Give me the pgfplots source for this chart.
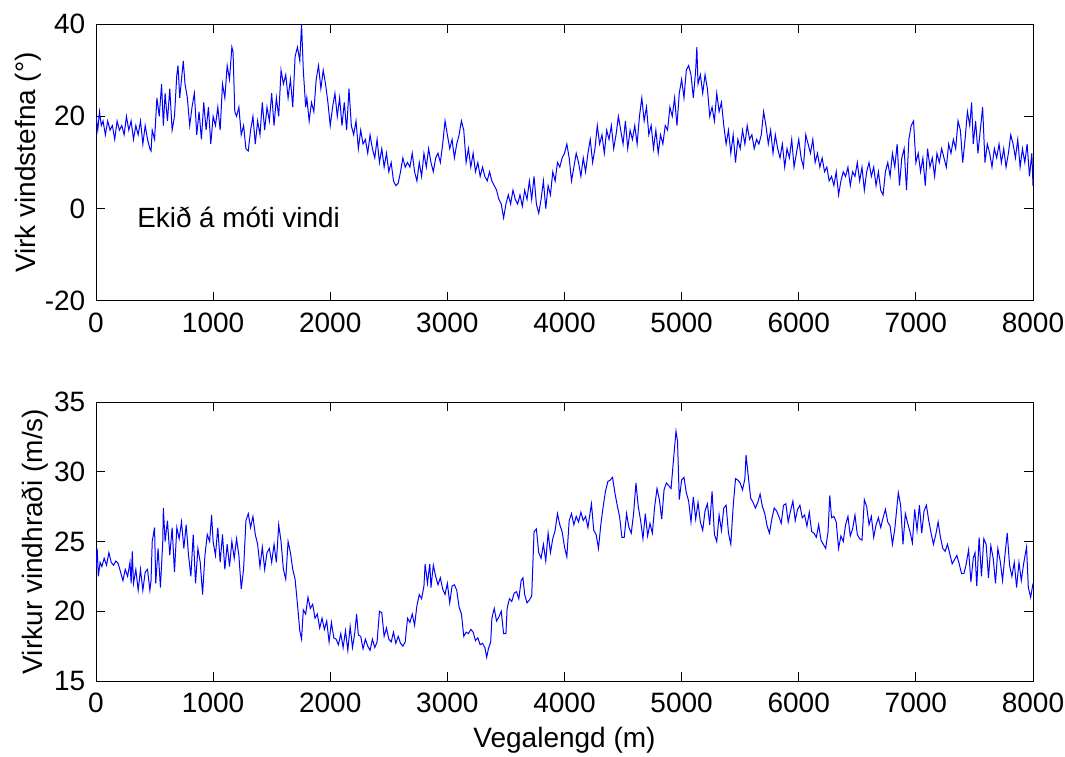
\documentclass[border=0pt]{standalone}
\usepackage{fontspec}
\setmainfont{Liberation Sans}
\usepackage{pgfplots}
\usepackage{pgfplotstable}
\pgfplotsset{compat=1.18}
\definecolor{mblue}{RGB}{0,0,255}

\pgfplotstableread{
x y
0 20
15 17
30 21
45 18
60 19
80 16
100 19
120 17
140 18
160 15
180 19
200 17
220 18
240 16
260 20
280 17
300 19
320 15
340 18
360 16
380 19
400 14
420 18
440 15
460 13
470 12.5
480 17
500 15
520 24
540 20
560 27
575 18
590 25
610 19
630 26
650 17
670 20
690 29
700 31
715 24
730 28
745 32
760 27
780 24
800 18
820 22
840 25
860 16
880 21
900 15
920 23
940 17
960 22
980 14
1000 20
1020 18
1040 22
1060 17
1080 27
1100 24
1120 31
1140 28
1160 35
1170 34
1185 21
1200 20
1220 22
1240 16
1260 18
1280 13
1300 12.5
1320 17
1340 20
1360 14
1380 19
1400 16
1420 23
1440 17
1460 22
1480 19
1500 25
1520 18
1540 24
1560 20
1580 30
1600 27
1620 29
1640 24
1660 28
1680 22
1700 33
1720 35
1740 32
1755 40
1770 30
1790 22
1800 24
1820 19
1840 23
1860 21
1880 28
1900 31
1920 26
1940 30
1960 27
1980 23
2000 18
2020 22
2040 25
2060 20
2080 24
2100 18
2120 23
2140 17
2160 26
2180 18
2200 16
2220 19
2240 13
2260 17
2280 14
2300 15
2320 12
2340 16
2360 13
2380 11
2400 15
2420 10
2440 13
2460 9
2480 12
2500 8
2520 10
2540 6
2560 5
2580 5.5
2600 8
2620 11
2640 9
2660 10
2680 9
2700 12
2720 8
2740 6
2760 10
2780 7
2800 12
2820 9
2840 13
2860 10
2880 8
2900 11
2920 12
2940 10
2960 14
2980 19
3000 16
3020 13
3040 15
3060 11
3080 14
3100 16
3120 19
3140 17
3160 10
3180 13
3200 9
3220 12
3240 8
3260 10
3280 7
3300 9
3320 7
3340 6
3360 8
3380 6
3400 5
3420 4
3440 2
3460 1
3480 -2
3500 1
3520 3
3540 1
3560 4
3580 2
3600 1
3620 3
3640 0.5
3660 4
3680 2
3700 6
3720 2
3740 7
3760 1
3780 -1
3800 2
3820 6
3840 0
3860 5
3880 3
3900 8
3920 6
3940 10
3960 9
3980 11
4000 12
4020 14
4040 11
4060 6
4080 9
4100 12
4120 10
4140 7
4160 11
4180 8
4200 12
4220 15
4240 10
4260 13
4280 18
4300 14
4320 16
4340 12
4360 17
4380 15
4400 18
4420 13
4440 16
4460 20
4480 17
4500 14
4520 19
4540 13
4560 17
4580 15
4600 18
4620 14
4640 20
4660 24
4680 19
4700 22
4720 16
4740 18
4760 13
4780 17
4800 12
4820 16
4840 14
4860 18
4880 17
4900 22
4920 20
4940 24
4960 18
4980 25
5000 28
5020 24
5040 30
5060 31
5080 29
5100 24
5120 30
5130 35
5140 27
5160 29
5180 25
5200 29
5220 26
5240 20
5260 22
5280 19
5300 25
5320 21
5340 23
5360 18
5380 14
5400 17
5420 12
5440 16
5460 10
5480 15
5500 13
5520 17
5540 14
5560 18
5580 15
5600 16
5620 13
5640 15
5660 14
5680 16
5700 21
5720 18
5740 14
5760 17
5780 12
5800 16
5820 13
5840 11
5860 14
5880 9
5900 13
5920 11
5940 15
5960 9
5980 12
6000 15
6020 11
6040 9
6060 16
6080 14
6100 12
6120 15
6140 10
6160 12
6180 9
6200 11
6220 8
6240 9
6260 6
6280 7
6300 5
6320 8
6340 3
6360 6
6380 8
6400 7
6420 9
6440 5
6460 8
6480 7
6500 10
6520 6
6540 9
6560 4
6580 8
6600 10
6620 7
6640 9
6660 5
6680 8
6700 4
6720 3
6740 8
6760 10
6780 7
6800 12
6820 9
6840 14
6860 5
6880 11
6900 13
6920 4
6940 15
6960 18
6980 19
7000 10
7020 12
7040 8
7060 11
7080 5
7100 13
7120 9
7140 11
7160 7
7180 12
7200 10
7220 13
7240 11
7260 9
7280 14
7300 12
7320 15
7340 13
7360 19
7380 17
7400 10
7420 15
7440 21
7460 18
7476 23
7490 14
7510 19
7530 12
7550 17
7570 22
7590 10
7610 14
7630 12
7650 9
7670 13
7690 11
7710 14
7730 10
7750 13
7770 9
7790 12
7810 16
7830 14
7850 11
7870 15
7890 9
7910 13
7930 10
7950 14
7970 7
7990 12
8000 5
}\dirtable

\pgfplotstableread{
x y
0 23
10 24.5
20 22.5
35 23.5
50 23.2
70 23.8
90 23.3
110 24.2
130 23.5
150 23.3
170 23.6
190 23.4
210 22.8
230 22.2
250 23
270 22.5
290 23.5
300 22
310 24.3
320 22
340 23
360 21.5
380 23
400 21.5
420 22.8
440 23
460 21.5
470 22.2
480 25
500 26
510 22
530 24.5
550 21.7
570 25
575 27.4
590 25
610 26.5
630 24
650 26
670 22.8
690 26
710 25.2
730 26.4
750 24.5
770 26.2
790 24
810 22.5
830 25.5
850 22
870 24.5
890 23.5
910 21.2
930 24
950 25.5
970 25
987 26.9
1000 25
1020 24
1040 26
1060 23.5
1080 25.5
1100 23
1120 24.8
1140 23.2
1160 25
1180 23.8
1200 25.2
1220 24
1240 21.6
1260 23
1280 26.5
1300 27
1320 26
1340 26.8
1360 25.5
1380 24.8
1400 23.2
1420 24.6
1440 23
1460 24.2
1480 24.5
1500 23.5
1520 24.8
1540 23.5
1560 26.2
1580 25
1600 23
1620 22.3
1640 25
1660 24.2
1680 23
1700 22.3
1720 20.5
1740 18.6
1755 18
1770 20.1
1790 19.8
1810 21
1830 20.2
1850 20.5
1870 19.5
1890 19.8
1910 18.8
1930 19.5
1950 18.7
1970 19.3
1990 17.8
2010 19.2
2030 18.1
2050 18
2070 17.6
2090 18.4
2110 17.4
2130 18.6
2150 17.2
2170 18.9
2190 17.4
2210 18.5
2225 19.8
2240 18.3
2260 18.2
2280 17.3
2300 18
2320 17.5
2340 17.2
2360 18
2380 17.4
2400 17.8
2420 20
2440 19.9
2460 18.2
2480 18.8
2500 18
2520 17.8
2540 18.5
2560 17.7
2580 18.2
2600 17.7
2620 17.5
2640 17.8
2660 19.5
2680 19.2
2700 19.8
2720 19
2740 20.4
2760 21.2
2780 20.9
2800 21.8
2810 23.4
2830 22
2850 23.4
2860 21.7
2880 23.3
2900 22.5
2920 21.9
2940 22.4
2960 21.6
2980 21.2
3000 22
3020 20.6
3040 21.8
3060 21.9
3080 21.5
3100 20.3
3120 19.8
3140 18.2
3160 18.5
3180 18.4
3200 18.7
3220 18.5
3240 17.9
3260 18.1
3280 17.6
3300 17.7
3320 17.4
3336 16.7
3350 17.3
3370 17.8
3380 19.5
3400 20.2
3420 19.3
3440 19.6
3460 20
3480 18.4
3500 18.4
3510 20.2
3530 20.9
3550 20.7
3570 21.3
3590 21.4
3610 20.9
3630 22.2
3645 22.4
3660 21.2
3680 20.6
3700 20.8
3720 21.1
3740 25.7
3760 25.9
3780 24.2
3800 23.8
3820 24.8
3840 23.6
3860 25.6
3880 24.2
3900 25.2
3920 25.8
3940 27
3960 26.2
3980 25.7
4000 24.6
4020 23.9
4040 26.5
4060 27
4080 26.2
4100 26.8
4120 26.4
4140 27.1
4160 26.5
4180 26.8
4200 26
4230 27.7
4250 25.8
4270 25.5
4290 24.5
4310 26.2
4330 27.5
4350 28.6
4370 29.3
4390 29.4
4410 29.6
4430 28.5
4450 27.6
4470 26.8
4490 25.3
4510 25.3
4530 27
4550 26
4570 25.6
4590 27
4610 29.2
4630 27.5
4650 26.5
4670 25.2
4690 27
4710 25.4
4730 26.3
4750 25.6
4770 27.5
4790 28.8
4810 28
4830 26.6
4850 28.7
4870 29.2
4890 29
4910 28.8
4930 30.8
4952 32.9
4965 32.2
4980 28
5000 29.4
5020 29.6
5040 28.5
5060 27.9
5080 26.4
5100 28.2
5120 26.6
5140 27.8
5160 26.4
5180 25.8
5200 27.2
5220 27.7
5240 26.2
5260 28.6
5280 25.5
5300 25
5320 26.9
5340 25.8
5360 27.4
5380 27.6
5400 25.6
5420 24.8
5440 27.5
5460 29.5
5480 29.4
5500 29.2
5520 28.7
5540 29.5
5550 31.2
5570 29.6
5590 28.1
5610 27.8
5630 27.4
5650 27.8
5670 28.4
5690 27.5
5710 27
5730 26.1
5750 25.6
5770 26.6
5790 27.4
5810 27.2
5830 26.8
5850 26.3
5870 27.6
5890 27.7
5910 26.4
5930 27.2
5950 27.9
5970 26.5
5990 27.3
6010 27.6
6030 26.7
6050 26.9
6070 26.1
6090 27.1
6110 25.7
6130 25.6
6150 25.3
6170 26.2
6190 25.1
6210 24.8
6230 24.5
6250 25.7
6265 28.3
6280 26.7
6300 26.8
6320 26.4
6340 24.5
6360 25.4
6380 25
6400 26.2
6420 26.8
6440 25.4
6460 25.9
6480 26.9
6500 25.5
6520 25.2
6540 25.1
6560 28
6580 27.5
6600 26.2
6620 26.8
6640 25.3
6660 26.2
6680 26.7
6700 26
6720 26.7
6740 27.3
6760 26.4
6780 26.1
6800 24.8
6820 25.9
6850 28.5
6870 27.6
6890 24.8
6910 27
6930 26.3
6950 25.7
6970 24.9
6990 27.3
7010 25.8
7030 27.6
7050 25.6
7070 27.2
7090 27.6
7110 26.5
7130 25.6
7150 24.8
7170 25.5
7190 26.4
7210 25.3
7230 24.5
7250 24.3
7270 24.8
7290 24.1
7310 23.4
7330 23.7
7350 24
7370 23.4
7390 22.7
7410 22.7
7430 23.4
7450 24.4
7470 22.1
7490 23.8
7505 24.2
7520 21.8
7540 25.3
7560 22.5
7580 25.2
7600 24.8
7620 22.4
7640 24.7
7660 23.8
7680 22
7700 24.5
7720 23.6
7740 22.2
7760 24
7780 25.6
7800 23.3
7820 22.5
7840 23.5
7860 21.7
7880 23.5
7900 22.2
7920 23.4
7945 24.6
7960 21.7
7980 21
8000 22
}\spdtable

\begin{document}
\fontsize{14pt}{16pt}\selectfont
\begin{tikzpicture}
\useasboundingbox (0,0) rectangle (532.5pt,378pt);
\pgfplotsset{
  every axis/.append style={
    scale only axis,
    width=468.5pt,
    xmin=0, xmax=8000,
    xtick={0,1000,...,8000},
    tick align=inside,
    xtick pos=both, ytick pos=both,
    major tick length=4.5pt,
    axis line style={line width=0.5pt, black},
    every tick/.style={black, line width=0.5pt},
    /pgf/number format/assume math mode=true,
    /pgf/number format/1000 sep={},
    tick label style={font=\fontsize{14pt}{16pt}\selectfont},
    label style={font=\fontsize{14pt}{16pt}\selectfont},
    xticklabel style={yshift=-1.3pt},
    yticklabel style={xshift=-0.5pt},
  }
}
\begin{axis}[
  at={(48pt,227.5pt)}, anchor=south west,
  height=138.5pt,
  ymin=-20, ymax=40,
  ytick={-20,0,20,40},
  ylabel={Virk vindstefna (°)},
  ylabel style={at={(axis description cs:-0.0651,0.5)}, anchor=base},
]
\addplot[mblue, line width=0.5pt] table[x=x,y=y] {\dirtable};
\node[anchor=base west, font=\fontsize{13.9pt}{16pt}\selectfont, inner sep=0pt] at (axis cs:350,-4.1) {Ekið á móti vindi};
\end{axis}
\begin{axis}[
  at={(48pt,37.5pt)}, anchor=south west,
  height=139.5pt,
  ymin=15, ymax=35,
  ytick={15,20,...,35},
  ylabel={Virkur vindhraði (m/s)},
  ylabel style={at={(axis description cs:-0.0566,0.5)}, anchor=base},
  xlabel={Vegalengd (m)},
  xlabel style={at={(axis description cs:0.5,-0.240)}, anchor=base},
]
\addplot[mblue, line width=0.5pt] table[x=x,y=y] {\spdtable};
\end{axis}
\end{tikzpicture}
\end{document}
